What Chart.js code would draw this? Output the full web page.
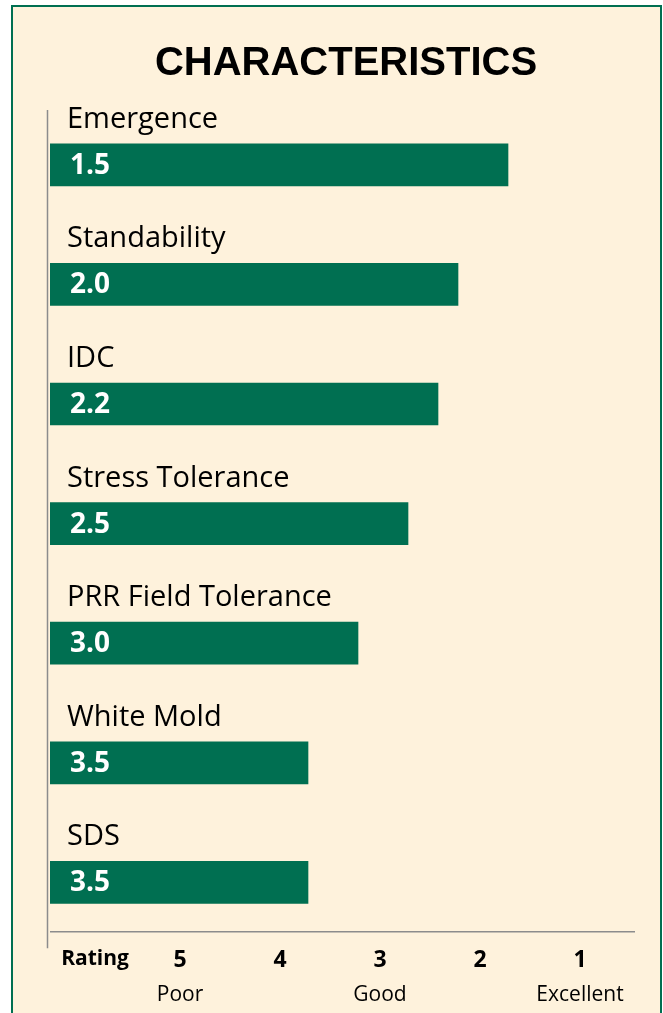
<!DOCTYPE html>
<html>
<head>
<meta charset="utf-8">
<script src="https://cdn.jsdelivr.net/npm/chart.js@4"></script>
<style>
    body { margin: 0; background: #ffffff; }
    #frame {
        position: absolute;
        left: 11px;
        top: 5px;
        width: 647px;
        height: 1030px;
        background: #fef2dc;
        border: 2px solid #006f51;
        border-bottom: none;
    }
    #traitChart { position: absolute; left: 0; top: 0; }
</style>
</head>
<body>
<div id="frame"></div>
<canvas id="traitChart" width="663" height="1013"></canvas>

<script>
// traits and their ratings (1 = excellent, 5 = poor)
const traits = [
    "Emergence",
    "Standability",
    "IDC",
    "Stress Tolerance",
    "PRR Field Tolerance",
    "White Mold",
    "SDS"
];
const ratings = [1.5, 2.0, 2.2, 2.5, 3.0, 3.5, 3.5];

// bottom rating scale
const ratingTicks = [5.85, 5, 4, 3, 2, 1];
const ratingLabels = ["Rating", "5", "4", "3", "2", "1"];
const wordTicks = [5, 3, 1];
const wordLabels = ["Poor", "Good", "Excellent"];

const GREEN = "#006f51";
const BAR_START = 6.08;

const traitLabels = {
    id: "traitLabels",
    afterDatasetsDraw(chart) {
        const ctx = chart.ctx;
        const area = chart.chartArea;
        const bars = chart.getDatasetMeta(0).data;

        ctx.save();

        // axis lines
        ctx.strokeStyle = "#8c8c8c";
        ctx.lineWidth = 1.5;
        ctx.beginPath();
        ctx.moveTo(area.left - 2.5, area.top + 5);
        ctx.lineTo(area.left - 2.5, area.bottom + 6);
        ctx.moveTo(area.left, area.bottom - 10.5);
        ctx.lineTo(area.right - 7, area.bottom - 10.5);
        ctx.stroke();

        ctx.textAlign = "left";
        bars.forEach((bar, i) => {
            const top = bar.y - bar.height / 2;

            ctx.fillStyle = "#000000";
            ctx.textBaseline = "alphabetic";
            ctx.font = "29px 'Open Sans'";
            ctx.fillText(traits[i], area.left + 17, top - 16);

            ctx.fillStyle = "#ffffff";
            ctx.textBaseline = "middle";
            ctx.font = "bold 28px 'Open Sans'";
            ctx.fillText(ratings[i].toFixed(1), area.left + 20, bar.y + 1);
        });

        ctx.restore();
    }
};

const ctx = document.getElementById("traitChart").getContext("2d");

new Chart(ctx, {
    type: "bar",

    data: {
        labels: traits,
        datasets: [{
            data: ratings,
            base: BAR_START,
            backgroundColor: GREEN,
            barThickness: 42
        }]
    },

    options: {
        indexAxis: "y",
        responsive: false,
        animation: false,

        layout: {
            padding: { left: 50, right: 21, top: 0, bottom: 0 }
        },

        scales: {
            y: {
                display: false
            },
            x: {
                display: false,
                reverse: true,
                min: 0.16,
                max: BAR_START
            },
            rating: {
                axis: "x",
                position: "bottom",
                weight: 1,
                reverse: true,
                min: 0.38,
                max: 6.3,
                grid: { display: false, drawTicks: false },
                border: { display: false },
                afterBuildTicks: (scale) => {
                    scale.ticks = ratingTicks.map(v => ({ value: v }));
                },
                ticks: {
                    padding: 4,
                    autoSkip: false,
                    maxRotation: 0,
                    color: "#000000",
                    font: (c) => ({
                        family: "'Open Sans'",
                        size: c.index === 0 ? 21 : 23,
                        weight: "bold"
                    }),
                    callback: (value, index) => ratingLabels[index]
                }
            },
            words: {
                axis: "x",
                position: "bottom",
                weight: 2,
                reverse: true,
                min: 0.38,
                max: 6.3,
                grid: { display: false, drawTicks: false },
                border: { display: false },
                afterBuildTicks: (scale) => {
                    scale.ticks = wordTicks.map(v => ({ value: v }));
                },
                ticks: {
                    padding: 5,
                    autoSkip: false,
                    maxRotation: 0,
                    color: "#000000",
                    font: { family: "'Open Sans'", size: 21 },
                    callback: (value, index) => wordLabels[index]
                }
            }
        },

        plugins: {
            legend: { display: false },
            tooltip: { enabled: false },
            title: {
                display: true,
                text: "CHARACTERISTICS",
                color: "#000000",
                font: { family: "'Liberation Sans'", size: 40, weight: "bold" },
                padding: { top: 40, bottom: 17 }
            }
        }
    },

    plugins: [traitLabels]
});
</script>
</body>
</html>
